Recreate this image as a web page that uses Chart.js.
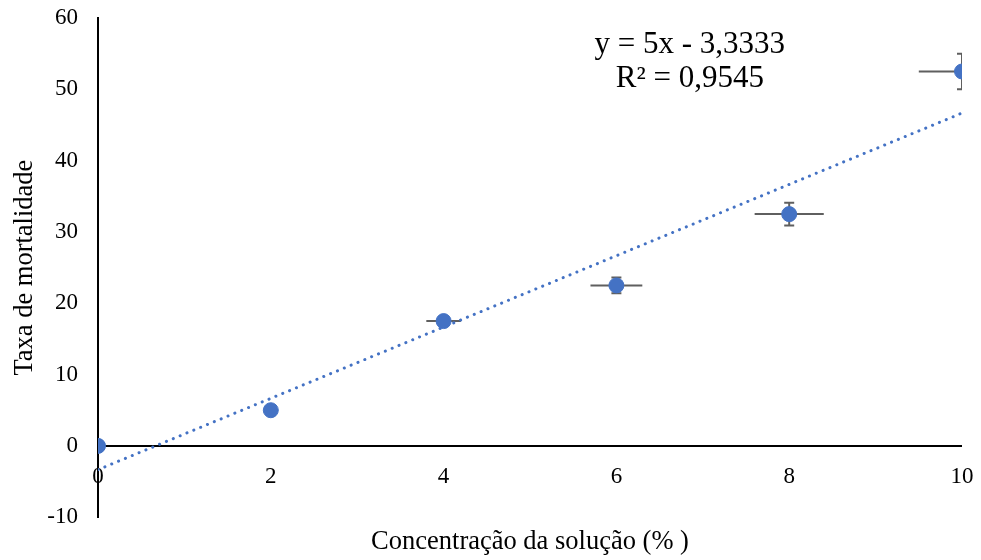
<!DOCTYPE html>
<html>
<head>
<meta charset="utf-8">
<script src="https://cdn.jsdelivr.net/npm/chart.js@4.4.1/dist/chart.umd.min.js"></script>
<style>
  html, body { margin: 0; padding: 0; background: #ffffff; }
  #wrap { width: 981px; height: 560px; position: relative; }
</style>
</head>
<body>
<div id="wrap"><canvas id="c" width="981" height="560"></canvas></div>
<script>
// ---- data ----
const concentration = [0, 2, 4, 6, 8, 10];
const mortality     = [0, 5, 17.5, 22.5, 32.5, 52.5];
const xError        = [0, 0, 0.2, 0.3, 0.4, 0.5];
const yError        = [0, 0, 0.5, 1.1, 1.6, 2.5];
const trendX        = [0, 10];
const trendY        = [-3.3333, 46.6667];
const xTicks        = [0, 2, 4, 6, 8, 10];
const yTicks        = [-10, 0, 10, 20, 30, 40, 50, 60];
const equationLines = ['y = 5x - 3,3333', 'R² = 0,9545'];
const xTitle = 'Concentração da solução (% )';
const yTitle = 'Taxa de mortalidade';

const SERIF = "'Liberation Serif', 'Times New Roman', serif";
const BLUE = '#4472C4';

const errorBars = {
  id: 'errorBars',
  beforeDatasetsDraw(chart) {
    const { ctx, chartArea, scales: { x, y } } = chart;
    ctx.save();
    ctx.beginPath();
    ctx.rect(chartArea.left, chartArea.top, chartArea.right - chartArea.left, chartArea.bottom - chartArea.top);
    ctx.clip();
    ctx.strokeStyle = '#5f5f5f';
    ctx.lineWidth = 2;
    concentration.forEach((cx, i) => {
      const px = x.getPixelForValue(cx);
      const py = y.getPixelForValue(mortality[i]);
      if (xError[i] > 0) {
        ctx.beginPath();
        ctx.moveTo(x.getPixelForValue(cx - xError[i]), py);
        ctx.lineTo(x.getPixelForValue(cx + xError[i]), py);
        ctx.stroke();
      }
      if (yError[i] > 0) {
        const t = y.getPixelForValue(mortality[i] + yError[i]);
        const b = y.getPixelForValue(mortality[i] - yError[i]);
        ctx.beginPath();
        ctx.moveTo(px, t); ctx.lineTo(px, b);
        ctx.moveTo(px - 5, t); ctx.lineTo(px + 5, t);
        ctx.moveTo(px - 5, b); ctx.lineTo(px + 5, b);
        ctx.stroke();
      }
    });
    ctx.restore();
  }
};

const equationLabel = {
  id: 'equationLabel',
  afterDraw(chart) {
    const { ctx, chartArea } = chart;
    const cx = chartArea.left + (chartArea.right - chartArea.left) * 0.685;
    ctx.save();
    ctx.fillStyle = '#000';
    ctx.font = "31px " + SERIF;
    ctx.textAlign = 'center';
    ctx.textBaseline = 'middle';
    equationLines.forEach((t, i) => {
      ctx.fillText(t, cx, chartArea.top + 27 + i * 34);
    });
    ctx.restore();
  }
};

function noPad(s) {
  s.paddingTop = 0; s.paddingBottom = 0; s.paddingLeft = 0; s.paddingRight = 0;
}

new Chart(document.getElementById('c'), {
  type: 'scatter',
  data: {
    datasets: [
      {
        label: 'Taxa de mortalidade',
        data: concentration.map((c, i) => ({ x: c, y: mortality[i] })),
        backgroundColor: BLUE,
        borderColor: BLUE,
        pointRadius: 7.5,
        pointBorderWidth: 1,
        pointHoverRadius: 7.5,
        order: 0
      },
      {
        label: 'Linear',
        type: 'line',
        data: trendX.map((c, i) => ({ x: c, y: trendY[i] })),
        borderColor: BLUE,
        borderWidth: 3,
        borderDash: [0.1, 7.3],
        borderCapStyle: 'round',
        pointRadius: 0,
        fill: false,
        order: 1
      }
    ]
  },
  options: {
    responsive: false,
    animation: false,
    events: [],
    layout: { padding: { top: 18, right: 19, bottom: 0, left: 0 } },
    plugins: {
      legend: { display: false },
      tooltip: { enabled: false },
      title: {
        display: true,
        position: 'bottom',
        fullSize: false,
        text: xTitle,
        color: '#000',
        font: { family: SERIF, size: 26.5, weight: 'normal' },
        padding: { top: 9, bottom: 2 }
      }
    },
    scales: {
      x: {
        type: 'linear',
        position: { y: 0 },
        min: 0, max: 10,
        afterBuildTicks: (s) => { s.ticks = xTicks.map(v => ({ value: v })); },
        afterFit: (s) => { s.height = 1; noPad(s); },
        grid: { display: false, drawTicks: false },
        border: { display: false },
        ticks: { color: '#000', font: { family: SERIF, size: 23 }, padding: 17, maxRotation: 0, autoSkip: false }
      },
      y: {
        type: 'linear',
        min: -10, max: 60,
        afterBuildTicks: (s) => { s.ticks = yTicks.map(v => ({ value: v })); },
        afterFit: (s) => { s.width = 98; noPad(s); },
        grid: {
          drawTicks: false,
          color: (c) => (c.tick && c.tick.value === 0) ? '#000' : 'rgba(0,0,0,0)',
          lineWidth: 2
        },
        border: { display: true, color: '#000', width: 2 },
        ticks: { color: '#000', font: { family: SERIF, size: 23 }, padding: 20 },
        title: { display: true, text: yTitle, color: '#000', font: { family: SERIF, size: 26.5 }, padding: { top: 9, bottom: 0 } }
      }
    }
  },
  plugins: [errorBars, equationLabel]
});
</script>
</body>
</html>
